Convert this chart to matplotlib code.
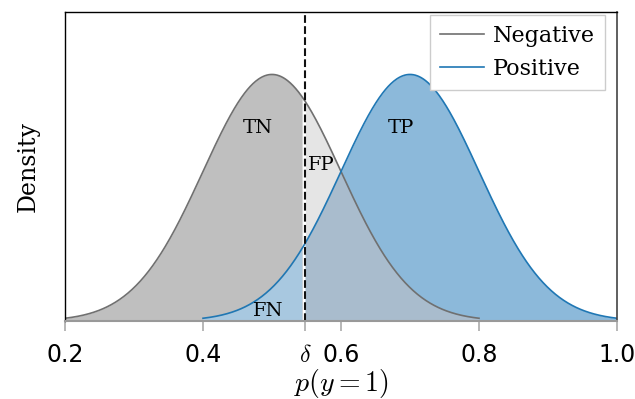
import numpy as np
import matplotlib
matplotlib.use("Agg")
import matplotlib.pyplot as plt

plt.rcParams["mathtext.fontset"] = "cm"

# distribution parameters
classes = ["Negative", "Positive"]
means = [0.5, 0.7]
sds = [0.1, 0.1]
ranges = [(0.2, 0.8), (0.4, 1.0)]
delta = 0.548
region_labels = ["TN", "FP", "TP", "FN"]
region_pos = [(0.48, 3.12), (0.572, 2.52), (0.687, 3.12), (0.494, 0.16)]
xticks = [0.2, 0.4, delta, 0.6, 0.8, 1.0]
xticklabels = ["0.2", "0.4", r"$\delta$", "0.6", "0.8", "1.0"]

line_colors = ["#707070", "#1f77b4"]

def pdf(x, m, s):
    return np.exp(-0.5 * ((x - m) / s) ** 2) / (s * np.sqrt(2 * np.pi))

fig = plt.figure(figsize=(6.35, 3.99), dpi=100)
ax = fig.add_axes([65 / 635, 1 - 321 / 399, (617 - 65) / 635, (321 - 12) / 399])

xn = np.linspace(*ranges[0], 600)
xp = np.linspace(*ranges[1], 600)
yn = pdf(xn, means[0], sds[0])
yp = pdf(xp, means[1], sds[1])

gap = 0.004
# left of delta
m = xn <= delta - gap
ax.fill_between(xn[m], 0, yn[m], color="#bfbfbf", lw=0)
m = xp <= delta - gap
ax.fill_between(xp[m], 0, yp[m], color="#a8c8e0", lw=0)
# right of delta
m = xn >= delta
ax.fill_between(xn[m], 0, yn[m], color="#e5e5e5", lw=0)
m = xp >= delta
ax.fill_between(xp[m], 0, yp[m], color="#8cb9da", lw=0)
xo = np.linspace(delta, ranges[0][1], 400)
ax.fill_between(xo, 0, np.minimum(pdf(xo, means[0], sds[0]), pdf(xo, means[1], sds[1])),
                color="#a9bccd", lw=0)

ax.plot(xn, yn, color=line_colors[0], lw=1.2, label=classes[0])
ax.plot(xp, yp, color=line_colors[1], lw=1.2, label=classes[1])
ax.axvline(delta, color="#111111", ls="--", lw=1.5)

serif = ["DejaVu Serif"]
for lab, (x, y) in zip(region_labels, region_pos):
    ax.text(x, y, lab, ha="center", va="center", fontsize=14, family=serif)

ax.set_xlim(0.2, 1.0)
ax.set_ylim(0, 5)
ax.set_yticks([])
ax.set_xticks(xticks)
ax.set_xticklabels(xticklabels, fontsize=17)
ax.tick_params(axis="x", length=7, color="#aaaaaa", width=1.2, pad=9)
ax.set_xlabel(r"$p(y=1)$", fontsize=20, labelpad=0)
ax.set_ylabel("Density", fontsize=17, family=serif, labelpad=18)

for s in ["left", "top"]:
    ax.spines[s].set_color("black")
    ax.spines[s].set_linewidth(1.0)
ax.spines["right"].set_color("#444444")
ax.spines["right"].set_linewidth(1.2)
ax.spines["bottom"].set_color("#999999")
ax.spines["bottom"].set_linewidth(1.5)

leg = ax.legend(loc="upper right", bbox_to_anchor=((605 - 65) / 552, (321 - 15) / 309),
                prop={"family": serif, "size": 16}, fancybox=False,
                edgecolor="#cccccc", framealpha=1, handlelength=2.0, borderpad=0.45,
                labelspacing=0.5, handletextpad=0.4, borderaxespad=0.0)
leg.get_frame().set_linewidth(1.0)

fig.savefig("out.png", dpi=100)
